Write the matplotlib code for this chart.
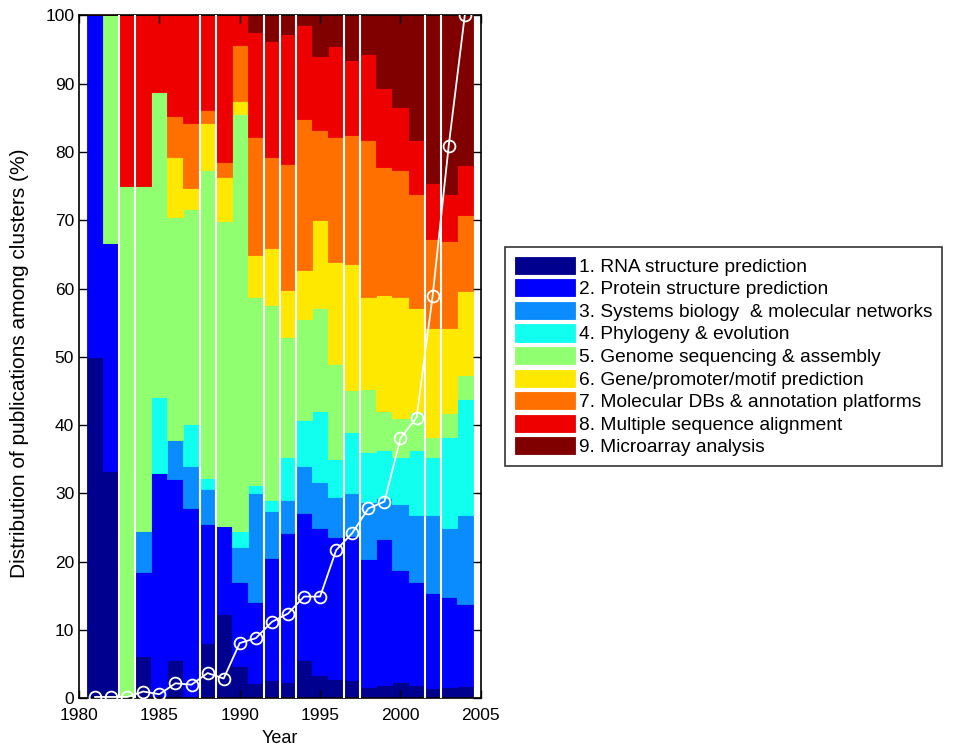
import matplotlib
matplotlib.use('Agg')
import matplotlib.pyplot as plt
import numpy as np

years = np.arange(1981, 2005)

cluster_names = [
    '1. RNA structure prediction',
    '2. Protein structure prediction',
    '3. Systems biology  & molecular networks',
    '4. Phylogeny & evolution',
    '5. Genome sequencing & assembly',
    '6. Gene/promoter/motif prediction',
    '7. Molecular DBs & annotation platforms',
    '8. Multiple sequence alignment',
    '9. Microarray analysis',
]

# share of each cluster per year (%), 1981..2004
rna_structure = [50, 33.3, 0, 6.2, 0, 5.6, 0, 8.1, 12.4, 4.7, 2.2, 2.7,
                 2.4, 5.6, 3.4, 2.9, 2.7, 1.7, 1.9, 2.4, 1.9, 1.5, 1.6, 1.8]
protein_structure = [50, 33.4, 0, 12.3, 33, 26.5, 27.8, 17.4, 12.8, 12.4, 11.9, 17.9,
                     21.8, 21.5, 21.5, 20.7, 21.0, 18.7, 21.4, 16.4, 15.2, 13.9, 13.2, 12.0]
systems_biology = [0, 0, 0, 6.0, 0, 5.8, 6.2, 5.2, 0, 5.1, 15.9, 6.8,
                   4.8, 6.9, 6.8, 5.9, 6.3, 8.4, 6.0, 9.6, 9.7, 11.4, 10.1, 13.0]
phylogeny = [0, 0, 0, 0, 11.1, 0, 6.2, 1.6, 0, 2.3, 1.3, 1.6,
             6.3, 6.8, 10.4, 5.5, 9.0, 7.3, 7.0, 7.0, 9.5, 8.6, 13.3, 17.0]
genome_sequencing = [0, 33.3, 75, 50.5, 44.7, 32.6, 31.5, 45.0, 44.7, 61.0, 27.5, 28.6,
                     17.6, 14.7, 15.0, 14.0, 6.1, 9.2, 5.8, 5.7, 5.7, 2.8, 3.6, 3.5]
gene_prediction = [0, 0, 0, 0, 0, 8.8, 3.0, 6.9, 6.5, 1.9, 6.1, 8.3,
                   6.9, 7.2, 13.0, 14.9, 18.5, 13.5, 16.9, 17.6, 15.1, 16.0, 12.5, 12.4]
molecular_dbs = [0, 0, 0, 0, 0, 5.9, 9.5, 1.9, 2.2, 8.2, 17.3, 13.4,
                 18.5, 22.1, 13.1, 18.3, 18.9, 23.0, 18.8, 18.7, 16.7, 13.0, 12.6, 11.1]
seq_alignment = [0, 0, 25, 25, 11.2, 14.8, 15.8, 13.9, 21.4, 4.4, 15.4, 17.0,
                 19.0, 13.8, 10.8, 13.3, 11.0, 12.5, 11.5, 9.2, 8.0, 8.2, 6.9, 7.3]
microarray = [0, 0, 0, 0, 0, 0, 0, 0, 0, 0, 2.4, 3.7,
              2.7, 1.4, 6.0, 4.5, 6.5, 5.7, 10.7, 13.4, 18.2, 24.6, 26.2, 21.9]

# yearly number of publications, as % of the 2004 count
pub_volume = [0.2, 0.2, 0.2, 1.0, 0.6, 2.2, 2.0, 3.7, 2.9, 8.1, 8.8, 11.2,
              12.4, 14.9, 14.9, 21.7, 24.2, 27.8, 28.8, 38.1, 41.1, 58.9, 80.9, 100]

# bar boundaries that show up as thin white lines
gap_edges = [1982.5, 1983.5, 1987.5, 1988.5, 1991.5, 1992.5, 1993.5,
             1996.5, 1997.5, 2001.5, 2002.5]

colors = ['#00008f', '#0000ff', '#0a8cff', '#10ffef', '#90ff70',
          '#ffe800', '#ff7000', '#ee0000', '#800000']

plt.rcParams['font.family'] = ['Liberation Sans', 'DejaVu Sans']

series = [rna_structure, protein_structure, systems_biology, phylogeny,
          genome_sequencing, gene_prediction, molecular_dbs, seq_alignment, microarray]

fig = plt.figure(figsize=(9.59, 7.48), dpi=100)
ax = fig.add_axes([0.0824, 0.0664, 0.419, 0.913])

bottom = np.zeros(len(years))
handles = []
for values, color, name in zip(series, colors, cluster_names):
    values = np.array(values, dtype=float)
    bars = ax.bar(years, values, bottom=bottom, width=1.0, color=color,
                  edgecolor=color, linewidth=0.6, label=name)
    handles.append(bars)
    bottom += values

for edge in gap_edges:
    ax.axvline(edge, color='white', linewidth=1.5, zorder=3)

ax.plot(years, pub_volume, color='white', linewidth=1.3, marker='o',
        markersize=8.5, markerfacecolor='none', markeredgecolor='white',
        markeredgewidth=1.3, zorder=4)

ax.set_xlim(1980, 2005)
ax.set_ylim(0, 100)
ax.set_xticks(range(1980, 2006, 5))
ax.set_yticks(range(0, 101, 10))
ax.tick_params(direction='in', length=6, width=1, top=True, right=True, labelsize=12.5)
ax.tick_params(axis='x', pad=7)
for spine in ax.spines.values():
    spine.set_linewidth(1.2)
ax.set_xlabel('Year', fontsize=13, labelpad=5)
ax.set_ylabel('Distribution of publications among clusters (%)', fontsize=15)
ax.yaxis.set_label_coords(-0.125, 0.49)

leg = fig.legend(handles=handles, loc='upper left', bbox_to_anchor=(0.5266, 0.6698),
                 borderaxespad=0, fontsize=13.8, frameon=True, fancybox=False,
                 handlelength=3.15, handleheight=1.0, handletextpad=0.2,
                 labelspacing=0.18, borderpad=0.5)
leg.get_frame().set_edgecolor('black')
leg.get_frame().set_linewidth(1.2)

fig.savefig('out.png', dpi=100)
